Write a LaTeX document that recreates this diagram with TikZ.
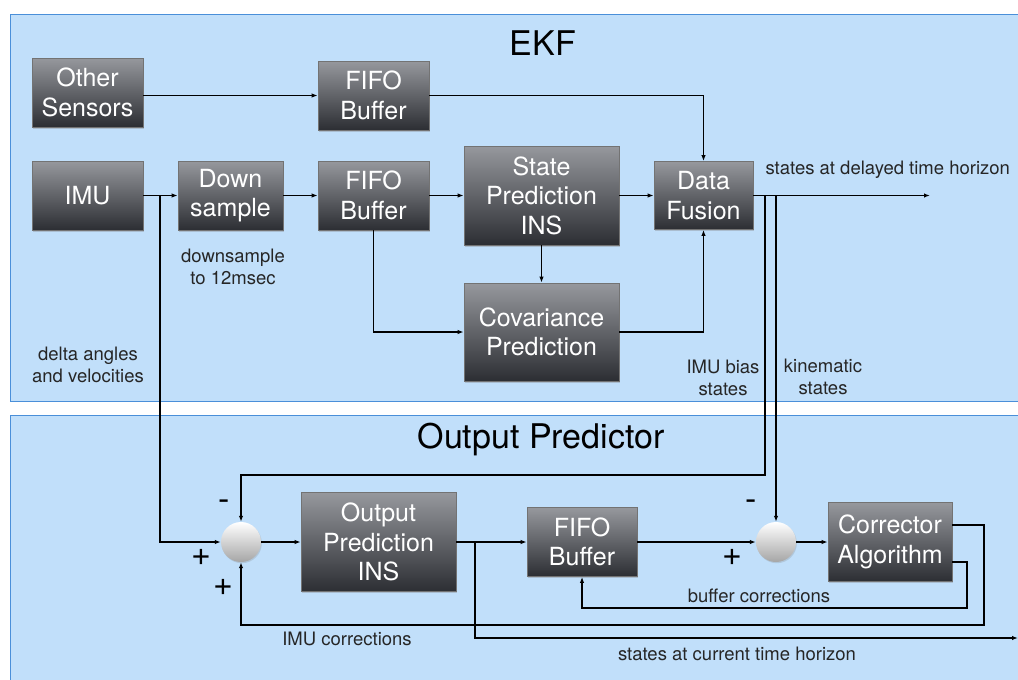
\documentclass[tikz,border=0pt]{standalone}
\usepackage{fontspec}
\setmainfont{TeX Gyre Heros}
\usetikzlibrary{arrows.meta,shadows,calc}
\definecolor{panelfill}{RGB}{193,223,250}
\definecolor{paneldraw}{RGB}{74,143,217}
\definecolor{boxtop}{RGB}{150,152,157}
\definecolor{boxbot}{RGB}{44,46,51}
\tikzset{
  blk/.style={rectangle, draw=black!55, line width=0.8pt, top color=boxtop, bottom color=boxbot,
    text=white, font=\fontsize{25}{29.5}\selectfont, align=center, inner sep=0pt,
    drop shadow={opacity=0.35, shadow xshift=1.2pt, shadow yshift=-1.5pt}},
  junc/.style={circle, minimum size=40pt, inner sep=0pt, top color=white, bottom color=black!35,
    drop shadow={opacity=0.25, shadow xshift=0.8pt, shadow yshift=-1.2pt}},
  arr/.style={line width=1.6pt, -{Latex[length=6pt,width=4.5pt]}},
  lbl/.style={font=\fontsize{18.5}{22}\selectfont, align=center, text=black!85},
  ttl/.style={font=\fontsize{34}{40}\selectfont},
  sgn/.style={font=\fontsize{34}{36}\selectfont, inner sep=0pt}
}
\begin{document}
\begin{tikzpicture}[x=1pt,y=-1pt]
\useasboundingbox (0,0) rectangle (1018,680);
\clip (0,0) rectangle (1018,680);
\fill[white] (0,0) rectangle (1018,680);
% panels
\draw[fill=panelfill, draw=paneldraw, line width=1pt] (10,14) rectangle (1040,401);
\draw[fill=panelfill, draw=paneldraw, line width=1pt] (10,415) rectangle (1040,700);
\node[ttl] (tekf) at (543,43) {EKF};
\node[ttl] (top) at (541,440) {Output Predictor};
% EKF blocks
\node[blk, minimum width=111pt, minimum height=69pt] (oth) at (87.5,92.5) {Other\\Sensors};
\node[blk, minimum width=111pt, minimum height=69pt] (fifo1) at (373.5,95.5) {FIFO\\Buffer};
\node[blk, minimum width=111pt, minimum height=69pt] (imu) at (87.5,195.5) {IMU};
\node[blk, minimum width=105pt, minimum height=69pt] (down) at (230.5,195.5) {Down\\sample};
\node[blk, minimum width=111pt, minimum height=69pt] (fifo2) at (373.5,195.5) {FIFO\\Buffer};
\node[blk, minimum width=155pt, minimum height=99pt] (sp) at (541.5,195.5) {State\\Prediction\\INS};
\node[blk, minimum width=155pt, minimum height=98pt] (cov) at (541.5,332) {Covariance\\Prediction};
\node[blk, minimum width=99pt, minimum height=68pt] (df) at (703.5,195.5) {Data\\Fusion};
% Output predictor blocks
\node[junc] (j1) at (241,542) {};
\node[blk, minimum width=155pt, minimum height=99pt] (opi) at (378.5,542) {Output\\Prediction\\INS};
\node[blk, minimum width=110pt, minimum height=69pt] (fifo3) at (582,542) {FIFO\\Buffer};
\node[junc] (j2) at (776,542) {};
\node[blk, minimum width=124pt, minimum height=79pt] (corr) at (890,542) {Corrector\\Algorithm};
% coordinates
\coordinate (tap1) at (160,195.5);
\coordinate (b1) at (765,195.5);
\coordinate (k1) at (765,475);
\coordinate (outd) at (930,195.5);
\coordinate (tap2) at (475,542);
\coordinate (c1) at (984,625);
\coordinate (c2) at (967,608);
\coordinate (endc) at (1018,638);
% EKF connectors
\draw[arr] (oth.east |- fifo1.west) -- (fifo1.west);
\draw[arr] (fifo1.east) -| (df.north);
\draw[arr] (imu) -- (down);
\draw[arr] (down) -- (fifo2);
\draw[arr] (fifo2) -- (sp);
\draw[arr] (sp) -- (df);
\draw[arr] (fifo2.south) |- (cov.west);
\draw[arr] (sp.south) -- (cov.north);
\draw[arr] (cov.east) -| (df.south);
\draw[arr] (df.east) -- (outd);
% to output predictor
\draw[arr] (tap1) |- (j1.west);
\draw[arr] (b1) -- (k1) -| (j1.north);
\draw[arr] (j2 |- df.east) -- (j2.north);
\draw[arr] (j1) -- (opi);
\draw[arr] (opi) -- (fifo3);
\draw[arr] (tap2) |- (endc);
\draw[arr] (fifo3) -- (j2);
\draw[arr] (j2) -- (corr);
\draw[arr] ([yshift=17pt]corr.east) -| (c1) -| (j1.south);
\draw[arr] ([yshift=-20pt]corr.east) -| (c2) -| (fifo3.south);
% labels
\node[lbl, anchor=west] (ldel) at (762,170) {states at delayed time horizon};
\node[lbl] (lds) at (233,267) {downsample\\to 12msec};
\node[lbl] (lda) at (88,365) {delta angles\\and velocities};
\node[lbl] (lbias) at (723,378) {IMU bias\\states};
\node[lbl] (lkin) at (823,377) {kinematic\\states};
\node[lbl] (limu) at (347,639) {IMU corrections};
\node[lbl] (lbuf) at (759,596) {buffer corrections};
\node[lbl] (lcur) at (737,654) {states at current time horizon};
% signs
\node[sgn] (m1) at (224,505) {-};
\node[sgn] (p1) at (201,557) {+};
\node[sgn] (p2) at (223,587) {+};
\node[sgn] (m2) at (751,505) {-};
\node[sgn] (p3) at (732,557) {+};
\end{tikzpicture}
\end{document}
